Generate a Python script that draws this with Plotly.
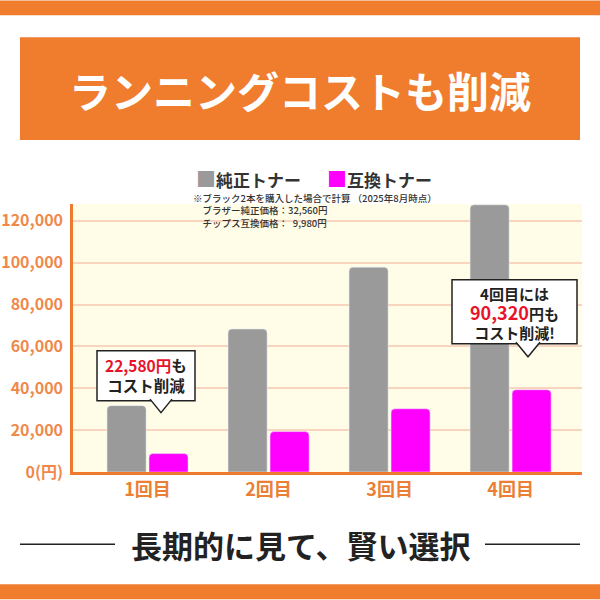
import plotly.graph_objects as go

# data
rounds = ["1回目", "2回目", "3回目", "4回目"]
genuine = [31700, 68300, 97800, 127600]   # 純正トナー
compat = [8800, 19300, 30200, 39300]      # 互換トナー
ytick_vals = [0, 20000, 40000, 60000, 80000, 100000, 120000]
ytick_text = ["0(円)", "20,000", "40,000", "60,000", "80,000", "100,000", "120,000"]

FONT = "Noto Sans CJK JP"
ORANGE = "#F07D2E"
RED = "#E8132B"
GRAY = "#9A9A9A"
PINK = "#FF00FF"

# plot area in pixels (600x600 canvas)
L, R, T, B = 73, 582, 204, 472.5


def px(x):
    return (x - L) / (R - L)


def py(y):
    return (B - y) / (B - T)


fig = go.Figure()
fig.add_trace(go.Bar(x=rounds, y=genuine, name="純正トナー", marker_color=GRAY))
fig.add_trace(go.Bar(x=rounds, y=compat, name="互換トナー", marker_color=PINK))

shapes = []
# top / bottom orange bands and title box
shapes.append(dict(type="rect", xref="paper", yref="paper", x0=px(0), x1=px(600),
                   y0=py(0), y1=py(15), fillcolor=ORANGE, line_width=0, layer="above"))
shapes.append(dict(type="rect", xref="paper", yref="paper", x0=px(20), x1=px(580),
                   y0=py(37), y1=py(140), fillcolor=ORANGE, line_width=0, layer="above"))
shapes.append(dict(type="rect", xref="paper", yref="paper", x0=px(0), x1=px(600),
                   y0=py(585), y1=py(600), fillcolor=ORANGE, line_width=0, layer="above"))
# lines beside the bottom slogan
for a, b in [(20, 115), (485, 580)]:
    shapes.append(dict(type="line", xref="paper", yref="paper", x0=px(a), x1=px(b),
                       y0=py(545), y1=py(545), line=dict(color="#222222", width=1.5)))


def callout(x0, x1, y0, y1, tx, tw, tip):
    # speech box with a small tail below
    shapes.append(dict(type="rect", xref="paper", yref="paper", x0=px(x0), x1=px(x1),
                       y0=py(y0), y1=py(y1), fillcolor="white",
                       line=dict(color="#222222", width=1.5), layer="above"))
    path = "M{},{} L{},{} L{},{}".format(px(tx - tw), py(y1 - 1.5), px(tx), py(tip),
                                         px(tx + tw), py(y1 - 1.5))
    shapes.append(dict(type="path", xref="paper", yref="paper", path=path,
                       fillcolor="white", line=dict(color="#222222", width=1.5),
                       layer="above"))


callout(97, 195, 351, 401, 161, 11, 413)
callout(452, 577, 280, 344, 528, 12, 357)

annotations = []


def note(x, y, text, size, color="#222222", xanchor="center", weight="bold", align="center"):
    annotations.append(dict(xref="paper", yref="paper", x=px(x), y=py(y), text=text,
                            showarrow=False, xanchor=xanchor, yanchor="middle", align=align,
                            font=dict(family=FONT, size=size, color=color, weight=weight)))


note(300, 89, "ランニングコストも削減", 42, "white")
note(300, 545, "長期的に見て、賢い選択", 31, "#222222")

# legend drawn as text with coloured squares
note(194, 178, "<span style='color:%s;font-size:20px'>■</span>純正トナー" % GRAY, 17,
     "#333333", xanchor="left")
note(325, 178, "<span style='color:%s;font-size:20px'>■</span>互換トナー" % PINK, 17,
     "#333333", xanchor="left")

note(191, 211, "※ブラック2本を購入した場合で計算 （2025年8月時点）<br>"
     "　ブラザー純正価格：32,560円<br>"
     "　チップス互換価格：\u20029,980円", 9.5, "#333333",
     xanchor="left", weight=500, align="left")

note(146, 375, "<span style='color:%s'>22,580円</span>も<br>コスト削減" % RED, 15.5)
note(514, 313, "4回目には<br><span style='color:%s;font-size:18px'>90,320</span>円も"
     "<br>コスト削減!" % RED, 15)

fig.update_layout(
    width=600, height=600,
    margin=dict(l=L, r=600 - R, t=T, b=600 - B, pad=0),
    paper_bgcolor="white",
    plot_bgcolor="#FFFDE8",
    font=dict(family=FONT),
    barmode="group",
    bargap=0.306,
    bargroupgap=0.07,
    barcornerradius=4,
    showlegend=False,
    shapes=shapes,
    annotations=annotations,
)
fig.update_xaxes(range=[-0.616, 3.59], showline=True, linecolor="#EE7A2E", linewidth=2.5,
                 showgrid=False, ticks="", automargin=False,
                 tickfont=dict(family=FONT, size=18, color="#EB7F35", weight="bold"))
fig.update_yaxes(range=[0, 128000], tickvals=ytick_vals, ticktext=ytick_text,
                 showline=True, linecolor="#EE7A2E", linewidth=2.5, ticklabelstandoff=4,
                 gridcolor="#F8D5BF", gridwidth=1.5, zeroline=False, ticks="", automargin=False,
                 tickfont=dict(family=FONT, size=16, color="#F0884A", weight="bold"))

# the page body has a default 8px margin; drop it so the 600x600 figure fills the window
fig.write_html("out.html", config={"displayModeBar": False},
               post_script="document.body.style.margin='0';")
